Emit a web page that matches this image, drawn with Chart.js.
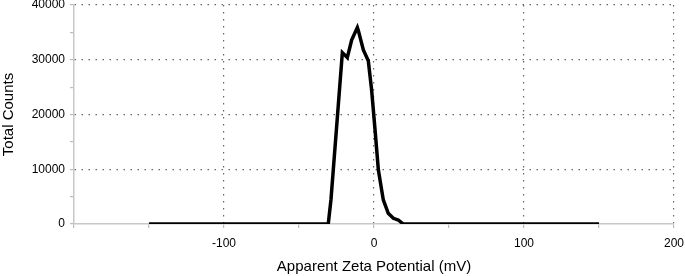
<!DOCTYPE html>
<html>
<head>
<meta charset="utf-8">
<script src="https://cdn.jsdelivr.net/npm/chart.js@4/dist/chart.umd.min.js"></script>
<style>
html,body{margin:0;padding:0;background:#fff;}
#wrap{width:685px;height:276px;position:relative;}
</style>
</head>
<body>
<div id="wrap"><canvas id="c" width="685" height="276"></canvas></div>
<script>
const zetaPotential = [-150, -30.5, -28.7, -24.2, -21.1, -17.8, -14.9, -11.1, -10.5, -7.1, -3.8, -1.6, 0.7, 2.9, 6.2, 9.5, 12.9, 16.2, 19.5, 150];
const totalCounts   = [0, 0, 4400, 20300, 31300, 30400, 33600, 35900, 35400, 31800, 29800, 24500, 17200, 9900, 4400, 1950, 1040, 730, 0, 0];
const xTickLabels = [-100, 0, 100, 200];
const yTickLabels = [0, 10000, 20000, 30000, 40000];

const points = zetaPotential.map((x, i) => ({x: x, y: totalCounts[i]}));
const font = "'Liberation Sans', Arial, sans-serif";

new Chart(document.getElementById('c'), {
  type: 'scatter',
  data: {
    datasets: [{
      data: points,
      showLine: true,
      borderColor: '#000',
      borderWidth: 3.5,
      pointRadius: 0,
      tension: 0,
      fill: false
    }]
  },
  options: {
    responsive: false,
    animation: false,
    events: [],
    layout: {padding: {top: 5, right: 11, left: 0, bottom: 0}},
    plugins: {legend: {display: false}, tooltip: {enabled: false}},
    scales: {
      x: {
        type: 'linear',
        min: -200, max: 200,
        afterFit: s => { s.height = 52; s.paddingLeft = 0; s.paddingRight = 0; },
        ticks: {
          stepSize: 50,
          autoSkip: false,
          maxRotation: 0,
          padding: 8,
          color: '#000',
          font: {family: font, size: 12},
          callback: v => xTickLabels.includes(v) ? String(v) : ''
        },
        grid: {
          color: ctx => (ctx.tick && xTickLabels.includes(ctx.tick.value)) ? '#666' : 'rgba(0,0,0,0)',
          lineWidth: 1.2,
          tickColor: '#bbb',
          tickLength: 4,
          drawTicks: true
        },
        border: {display: true, color: '#c8c8c8', width: 1.5, dash: [1.5, 5.5]},
        title: {
          display: true,
          text: 'Apparent Zeta Potential (mV)',
          color: '#000',
          font: {family: font, size: 15},
          padding: {top: 4, bottom: 0}
        }
      },
      y: {
        min: 0, max: 40000,
        afterFit: s => { s.width = 74; s.paddingTop = 0; s.paddingBottom = 0; },
        ticks: {
          stepSize: 5000,
          autoSkip: false,
          padding: 5,
          color: '#000',
          font: {family: font, size: 12},
          callback: v => yTickLabels.includes(v) ? String(v) : ''
        },
        grid: {
          color: ctx => (ctx.tick && ctx.tick.value !== 0 && yTickLabels.includes(ctx.tick.value)) ? '#666' : 'rgba(0,0,0,0)',
          lineWidth: 1.2,
          tickColor: '#bbb',
          tickLength: 4,
          drawTicks: true
        },
        border: {display: true, color: '#c8c8c8', width: 1.5, dash: [1.5, 5.5]},
        title: {
          display: true,
          text: 'Total Counts',
          color: '#000',
          font: {family: font, size: 15},
          padding: {top: 0, bottom: 4}
        }
      }
    }
  }
});
</script>
</body>
</html>
